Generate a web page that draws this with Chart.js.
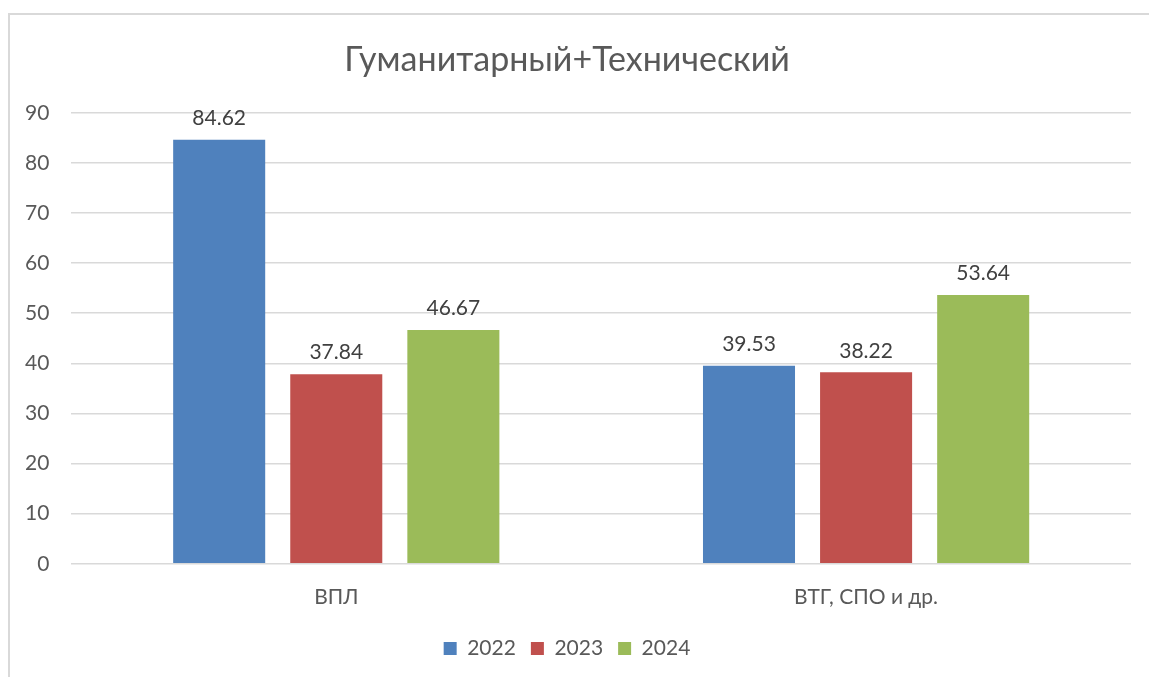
<!DOCTYPE html>
<html>
<head>
<meta charset="utf-8">
<script src="https://cdn.jsdelivr.net/npm/chart.js@4"></script>
<style>
  html, body { margin: 0; padding: 0; overflow: hidden; background: #fff; }
  #frame { position: absolute; left: 8px; top: 13px; width: 1160px; height: 700px; border: 2px solid #d9d9d9; }
  #wrap { position: absolute; left: 0; top: 0; width: 1149px; height: 677px; }
</style>
</head>
<body>
<div id="frame"></div>
<div id="wrap"><canvas id="barCanvas"></canvas></div>
<script>
const categories = ["ВПЛ", "ВТГ, СПО и др."];
const years = ["2022", "2023", "2024"];
const values2022 = [84.62, 39.53];
const values2023 = [37.84, 38.22];
const values2024 = [46.67, 53.64];
const colors = ["#4F81BD", "#C0504D", "#9BBB59"];

const fontFamily = "Lato, 'Open Sans', sans-serif";

// подписи значений над столбцами
const barLabels = {
    id: "barLabels",
    afterDatasetsDraw(chart) {
        const ctx = chart.ctx;
        ctx.save();
        ctx.font = "21px " + fontFamily;
        ctx.fillStyle = "#404040";
        ctx.textAlign = "center";
        ctx.textBaseline = "bottom";
        chart.data.datasets.forEach((ds, i) => {
            chart.getDatasetMeta(i).data.forEach((bar, j) => {
                ctx.fillText(ds.data[j].toFixed(2), bar.x, bar.y - 11);
            });
        });
        ctx.restore();
    }
};

const barCanvas = document.getElementById('barCanvas');

const barChart = new Chart(barCanvas, {
    type: "bar",
    data: {
        labels: categories,
        datasets: [
            { label: years[0], data: values2022, backgroundColor: colors[0] },
            { label: years[1], data: values2023, backgroundColor: colors[1] },
            { label: years[2], data: values2024, backgroundColor: colors[2] }
        ]
    },
    options: {
        responsive: true,
        maintainAspectRatio: false,
        animation: false,
        categoryPercentage: 0.663,
        barPercentage: 0.786,
        layout: { padding: { left: 3, right: 18, top: 40, bottom: 8 } },
        plugins: {
            title: {
                display: true,
                text: "Гуманитарный+Технический",
                color: "#595959",
                font: { family: fontFamily, size: 34, weight: "normal" },
                padding: { top: 0, bottom: 32 }
            },
            legend: {
                position: "bottom",
                labels: {
                    color: "#595959",
                    font: { family: fontFamily, size: 21 },
                    boxWidth: 13,
                    boxHeight: 13,
                    padding: 15
                }
            },
            tooltip: { enabled: false }
        },
        scales: {
            x: {
                grid: { display: false },
                border: { display: false },
                ticks: { color: "#595959", font: { family: fontFamily, size: 21 }, padding: 13 }
            },
            y: {
                min: 0,
                max: 90,
                ticks: { stepSize: 10, color: "#595959", font: { family: fontFamily, size: 21 }, padding: 22 },
                grid: { color: "#d9d9d9", lineWidth: 1.5, drawTicks: false },
                border: { display: false }
            }
        }
    },
    plugins: [barLabels]
});
</script>
</body>
</html>
